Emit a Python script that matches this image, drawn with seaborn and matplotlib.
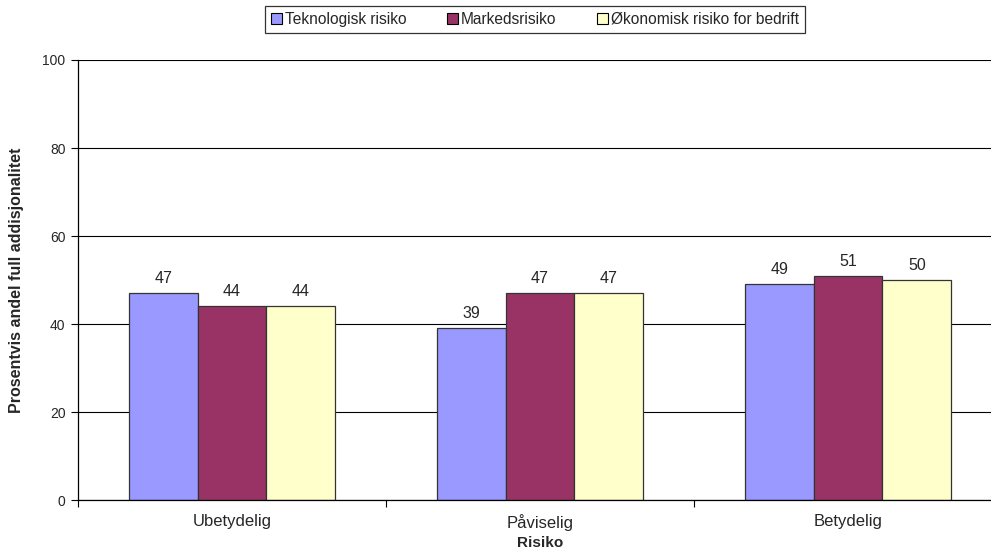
import pandas as pd
import seaborn as sns
import matplotlib.pyplot as plt

# data
kategorier = ["Ubetydelig", "Påviselig", "Betydelig"]
serier = ["Teknologisk risiko", "Markedsrisiko", "Økonomisk risiko for bedrift"]
teknologisk = [47, 39, 49]
markeds = [44, 47, 51]
okonomisk = [44, 47, 50]
farger = ["#9999FF", "#993366", "#FFFFCC"]

rows = []
for s, vals in zip(serier, [teknologisk, markeds, okonomisk]):
    for k, v in zip(kategorier, vals):
        rows.append({"Risiko": k, "Serie": s, "Verdi": v})
df = pd.DataFrame(rows)

sns.set_style("white")
plt.rcParams['font.family'] = ['Liberation Sans', 'DejaVu Sans']

fig = plt.figure(figsize=(9.91, 5.54), dpi=100)
ax = fig.add_axes([78 / 991, 1 - 500 / 554, (1002 - 78) / 991, 440 / 554])

sns.barplot(data=df, x="Risiko", y="Verdi", hue="Serie", order=kategorier,
            hue_order=serier, palette=farger, width=0.67,
            edgecolor="#333333", linewidth=0.9, saturation=1, ax=ax)

for c in ax.containers:
    ax.bar_label(c, padding=5, fontsize=11.5)

ax.set_ylim(0, 100)
ax.set_xlim(-0.5, 2.5)
ax.set_yticks([0, 20, 40, 60, 80, 100])
ax.yaxis.grid(True, color="black", linewidth=0.8)
ax.set_axisbelow(True)
ax.tick_params(axis="y", which="major", length=5, width=0.8, left=True,
               labelsize=10, pad=4, color="black")
ax.tick_params(axis="x", which="major", length=0, labelsize=12, pad=10)
ax.set_xticks([-0.5, 0.5, 1.5, 2.5], minor=True)
ax.tick_params(axis="x", which="minor", length=5, width=0.8, bottom=True,
               color="black")

for side in ["top", "right"]:
    ax.spines[side].set_visible(False)
for side in ["left", "bottom"]:
    ax.spines[side].set_color("black")
    ax.spines[side].set_linewidth(0.9)

ax.set_xlabel("Risiko", fontsize=11, fontweight="bold", labelpad=4)
ax.set_ylabel("Prosentvis andel full addisjonalitet", fontsize=11.5,
              fontweight="bold", labelpad=13)

ax.get_legend().remove()
handles, labels = ax.get_legend_handles_labels()
leg = fig.legend(handles, labels, loc="center", bbox_to_anchor=(535 / 991, 1 - 19.5 / 554),
                 ncol=3, frameon=True, fancybox=False, fontsize=11.2,
                 handlelength=0.7, handleheight=0.7, handletextpad=0.2,
                 columnspacing=2.6, borderpad=0.4, edgecolor="black")
leg.get_frame().set_linewidth(0.9)
for h in leg.legend_handles:
    h.set_edgecolor("black")
    h.set_linewidth(0.8)

fig.savefig("out.png", dpi=100)
